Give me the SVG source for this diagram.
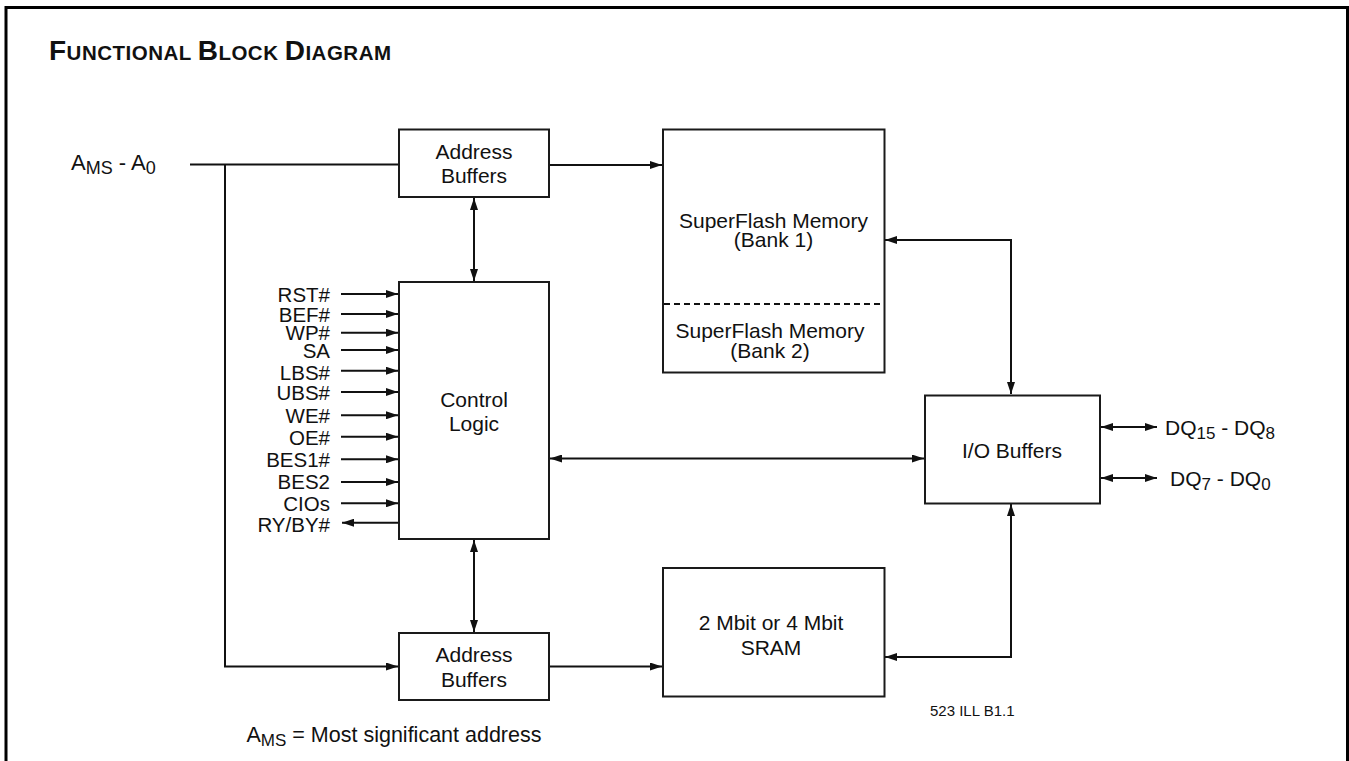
<svg xmlns="http://www.w3.org/2000/svg" width="1349" height="761" viewBox="0 0 1349 761">
<defs>
<style>
text{font-family:"Liberation Sans",Arial,Helvetica,sans-serif;fill:#111;}
.box{fill:#fff;stroke:#1a1a1a;stroke-width:2;}
.lbl{font-size:21px;text-anchor:middle;}
.sig{font-size:20.5px;text-anchor:end;}
.wire{fill:none;stroke:#111;stroke-width:2;}
.arr{marker-end:url(#ah);}
.bi{marker-start:url(#ah);marker-end:url(#ah);}
</style>
<marker id="ah" viewBox="0 0 12 8" refX="12" refY="4" markerWidth="12" markerHeight="8" markerUnits="userSpaceOnUse" orient="auto-start-reverse">
<path d="M0,0 L12,4 L0,8 z" fill="#111"/>
</marker>
</defs>
<rect width="1349" height="761" fill="#fff"/>
<path d="M6,761 V7.5 H1347.5 V761" fill="none" stroke="#000" stroke-width="3"/>
<text x="49" y="59.5" font-weight="bold" letter-spacing="0.5"><tspan font-size="28">F</tspan><tspan font-size="20.5">UNCTIONAL </tspan><tspan font-size="28">B</tspan><tspan font-size="20.5">LOCK </tspan><tspan font-size="28">D</tspan><tspan font-size="20.5">IAGRAM</tspan></text>

<g id="addr-in-label">
<text x="71" y="169.5" font-size="22">A<tspan font-size="18" dy="4">MS</tspan><tspan dy="-4"> - A</tspan><tspan font-size="18" dy="4">0</tspan></text>
</g>

<g id="connectors">
<path class="wire" d="M190,164.5 H399"/>
<path class="wire arr" d="M225,164.5 V666.5 H398"/>
<path class="wire arr" d="M549,165 H662"/>
<path class="wire bi" d="M474,198 V281"/>
<path class="wire bi" d="M474,540 V632"/>
<path class="wire arr" d="M549,666.5 H662"/>
<path class="wire bi" d="M550,458.5 H924"/>
<path class="wire bi" d="M885,240 H1011 V394"/>
<path class="wire bi" d="M885,657 H1011 V504"/>
<path class="wire bi" d="M1101,427 H1157"/>
<path class="wire bi" d="M1101,478 H1157"/>
<path class="wire arr" d="M341,294 H398"/>
<path class="wire arr" d="M341,314 H398"/>
<path class="wire arr" d="M341,332.7 H398"/>
<path class="wire arr" d="M341,350 H398"/>
<path class="wire arr" d="M341,370.7 H398"/>
<path class="wire arr" d="M341,392 H398"/>
<path class="wire arr" d="M341,415.3 H398"/>
<path class="wire arr" d="M341,436.7 H398"/>
<path class="wire arr" d="M341,459.3 H398"/>
<path class="wire arr" d="M341,482 H398"/>
<path class="wire arr" d="M341,503.3 H398"/>
<path class="wire arr" d="M399,522.7 H342"/>
</g>

<g id="address-buffers-top">
<rect class="box" x="399" y="129.5" width="150" height="67.5"/>
<text class="lbl" x="474" y="158.5">Address</text>
<text class="lbl" x="474" y="182.5">Buffers</text>
</g>

<g id="control-logic">
<rect class="box" x="399" y="282" width="150" height="257"/>
<text class="lbl" x="474" y="406.5">Control</text>
<text class="lbl" x="474" y="430.5">Logic</text>
</g>

<g id="signals">
<text class="sig" x="330" y="302">RST#</text>
<text class="sig" x="330" y="321.7">BEF#</text>
<text class="sig" x="330" y="340.3">WP#</text>
<text class="sig" x="330" y="358.3">SA</text>
<text class="sig" x="330" y="380">LBS#</text>
<text class="sig" x="330" y="400">UBS#</text>
<text class="sig" x="330" y="422.7">WE#</text>
<text class="sig" x="330" y="445">OE#</text>
<text class="sig" x="330" y="466.7">BES1#</text>
<text class="sig" x="330" y="489.3">BES2</text>
<text class="sig" x="330" y="511">CIOs</text>
<text class="sig" x="330" y="531.7">RY/BY#</text>
</g>

<g id="address-buffers-bottom">
<rect class="box" x="399" y="633" width="150" height="67"/>
<text class="lbl" x="474" y="662">Address</text>
<text class="lbl" x="474" y="686.5">Buffers</text>
</g>

<g id="superflash">
<rect class="box" x="663" y="129.5" width="221.5" height="243"/>
<line x1="664" y1="304" x2="883.5" y2="304" stroke="#111" stroke-width="2" stroke-dasharray="6,4"/>
<text class="lbl" x="773.5" y="227.5">SuperFlash Memory</text>
<text class="lbl" x="773.5" y="246.7">(Bank 1)</text>
<text class="lbl" x="770" y="338.3">SuperFlash Memory</text>
<text class="lbl" x="770" y="357.7">(Bank 2)</text>
</g>

<g id="sram">
<rect class="box" x="663" y="568" width="221.5" height="128.5"/>
<text class="lbl" x="771" y="630">2 Mbit or 4 Mbit</text>
<text class="lbl" x="771" y="655">SRAM</text>
</g>

<g id="io-buffers">
<rect class="box" x="925" y="395.5" width="175" height="108"/>
<text class="lbl" x="1012" y="457.5">I/O Buffers</text>
</g>

<g id="dq-labels">
<text x="1165" y="435" font-size="21">DQ<tspan font-size="17" dy="4">15</tspan><tspan dy="-4"> - DQ</tspan><tspan font-size="17" dy="4">8</tspan></text>
<text x="1170" y="486" font-size="21">DQ<tspan font-size="17" dy="4">7</tspan><tspan dy="-4"> - DQ</tspan><tspan font-size="17" dy="4">0</tspan></text>
</g>

<text x="930" y="715.7" font-size="15">523 ILL B1.1</text>
<text x="246.5" y="741.7" font-size="21.5">A<tspan font-size="17" dy="4.5">MS</tspan><tspan dy="-4.5"> = Most significant address</tspan></text>
</svg>
